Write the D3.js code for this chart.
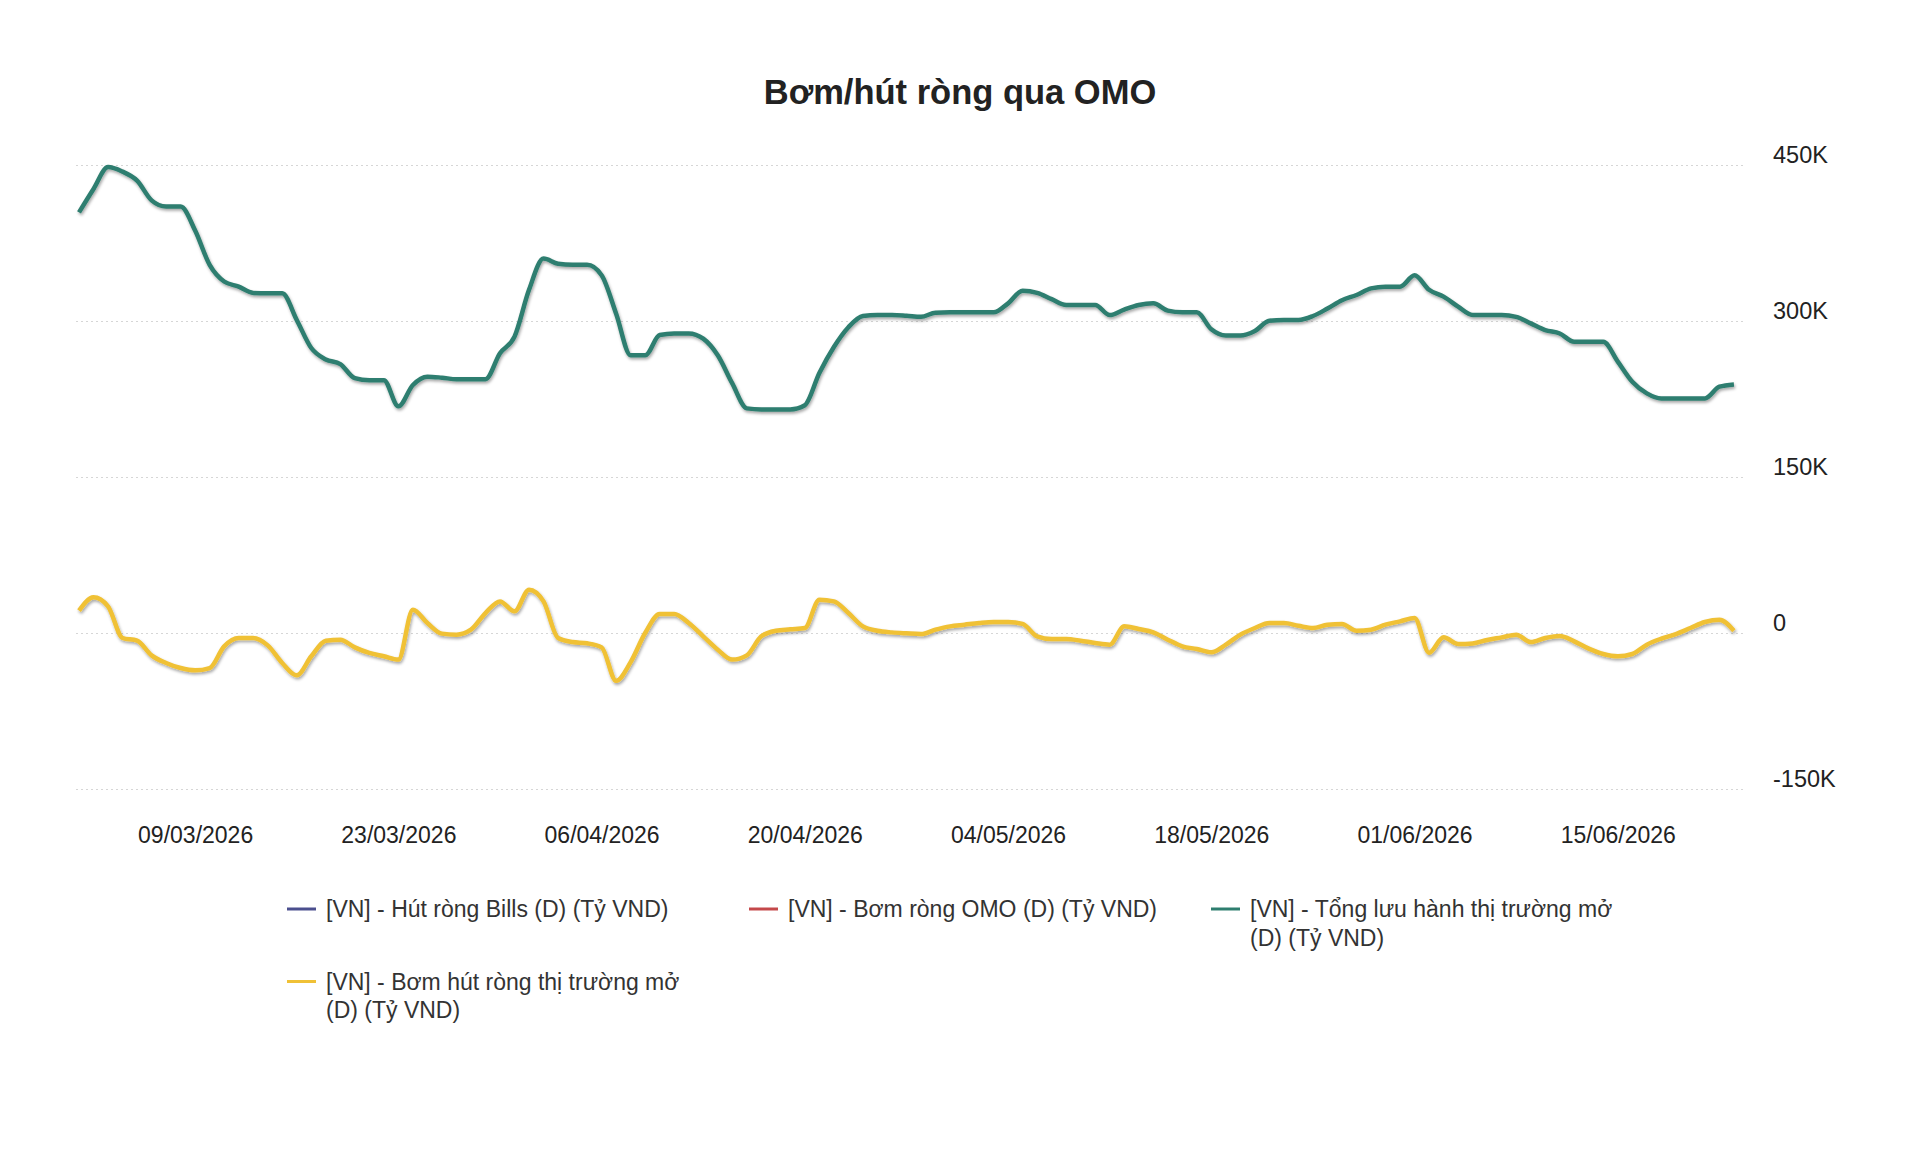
<!DOCTYPE html>
<html>
<head>
<meta charset="utf-8">
<script src="https://cdn.jsdelivr.net/npm/d3@7"></script>
<style>
	body { margin: 0; background: #ffffff; }
	svg { display: block; font-family: "Liberation Sans", Arial, sans-serif; }
</style>
</head>
<body>
<script>
var chartTitle = "Bơm/hút ròng qua OMO";
var startDay = "01/03/2026";
var xTicks = ["09/03/2026", "23/03/2026", "06/04/2026", "20/04/2026", "04/05/2026", "18/05/2026", "01/06/2026", "15/06/2026"];
var yTicks = [-150000, 0, 150000, 300000, 450000];
var seriesNames = [
	"[VN] - Hút ròng Bills (D) (Tỷ VND)",
	"[VN] - Bơm ròng OMO (D) (Tỷ VND)",
	"[VN] - Tổng lưu hành thị trường mở (D) (Tỷ VND)",
	"[VN] - Bơm hút ròng thị trường mở (D) (Tỷ VND)"
];
var seriesColors = ["#4b4f8e", "#c4484a", "#2e7e6f", "#f0c136"];
// daily values, Tỷ VND, from 01/03/2026
var totalOpen = [
	404500, 427000, 448000, 443600, 435000, 416000, 410000, 410000, 387000, 354000,
	338000, 333000, 327000, 326600, 326600, 301000, 274000, 263000, 258600, 245000,
	243000, 243000, 218000, 238500, 246500, 245500, 244000, 244000, 244000, 269000,
	285000, 330000, 360000, 355000, 354000, 354000, 344000, 307000, 267000, 267000,
	286500, 288000, 288000, 283000, 267000, 240000, 216000, 215000, 215000, 215000,
	219000, 250000, 275000, 294000, 304800, 305700, 305700, 305000, 304000, 308000,
	308300, 308300, 308300, 308300, 317000, 329000, 327000, 321000, 315400, 315400,
	315400, 305700, 311000, 315400, 317000, 310000, 308300, 308300, 292000, 286000,
	286000, 290400, 300300, 301000, 301000, 304800, 312000, 320000, 325000, 331400,
	333000, 333000, 344000, 330000, 323400, 313800, 305700, 305700, 305700, 304000,
	297700, 291300, 288000, 280000, 280000, 280000, 261000, 241600, 230400, 225600,
	225600, 225600, 225600, 236800, 239000
];
var netOpen = [
	21500, 34300, 25600, -4800, -7400, -21500, -28800, -33700, -35900, -33700,
	-12800, -4800, -4800, -11900, -28800, -40700, -22400, -7400, -6400, -13800,
	-19200, -22400, -25600, 22400, 9600, -600, -1600, 3200, 19200, 30400,
	20800, 41700, 30400, -4800, -8700, -9900, -13800, -46000, -28000, 0,
	18300, 18300, 9600, -3200, -16000, -25600, -21500, -3200, 2200, 3500,
	4800, 32000, 30400, 19200, 6400, 2200, 600, -300, -1000, 3200,
	6400, 8000, 9600, 10600, 10600, 8700, -3200, -5800, -5800, -7400,
	-9600, -11200, 6400, 3800, 600, -6400, -12800, -15400, -18600, -11200,
	-1600, 4800, 9600, 9600, 7000, 4800, 8000, 8700, 2200, 3200,
	8000, 11200, 14400, -19000, -4200, -10600, -10000, -6700, -4200, -1600,
	-8700, -4800, -2900, -8000, -15000, -20200, -22400, -20200, -11200, -5400,
	-1000, 4800, 10600, 12800, 2200
];

var width = 1920, height = 1154;
var parse = d3.timeParse("%d/%m/%Y");
var fmtK = function (v) { return v === 0 ? "0" : (v / 1000) + "K"; };

var svg = d3.select("body").append("svg")
	.attr("width", width)
	.attr("height", height);

var defs = svg.append("defs");
defs.append("filter")
	.attr("id", "shadow")
	.attr("x", "-5%").attr("y", "-20%")
	.attr("width", "110%").attr("height", "140%")
	.append("feDropShadow")
	.attr("dx", 1).attr("dy", 2)
	.attr("stdDeviation", 1.8)
	.attr("flood-color", "#000")
	.attr("flood-opacity", 0.35);

var t0 = parse(startDay);
var days = d3.timeDay.range(t0, d3.timeDay.offset(t0, totalOpen.length));

var x = d3.scaleTime()
	.domain([t0, d3.timeDay.offset(t0, 115)])
	.range([79, 79 + 115 * 14.517]);
var y = d3.scaleLinear()
	.domain([-150000, 450000])
	.range([789, 165]);

var gridLeft = 76, gridRight = 1746;

svg.append("text")
	.attr("x", 960)
	.attr("y", 104)
	.attr("text-anchor", "middle")
	.style("font-size", "34.5px")
	.style("font-weight", "bold")
	.style("fill", "#222")
	.text(chartTitle);

// y grid + labels on the right
var yAxis = svg.append("g").attr("class", "y-axis");
yAxis.selectAll("line")
	.data(yTicks)
	.enter()
	.append("line")
	.attr("x1", gridLeft)
	.attr("x2", gridRight)
	.attr("y1", function (d) { return y(d) + 0.5; })
	.attr("y2", function (d) { return y(d) + 0.5; })
	.attr("stroke", "#d6d6d6")
	.attr("stroke-width", 1.2)
	.attr("stroke-dasharray", "2,3");
yAxis.selectAll("text")
	.data(yTicks)
	.enter()
	.append("text")
	.attr("x", 1773)
	.attr("y", function (d) { return y(d) - 2; })
	.style("font-size", "23.5px")
	.style("fill", "#222")
	.text(fmtK);

// x axis labels
var xAxis = svg.append("g")
	.attr("transform", "translate(0,843)")
	.call(d3.axisBottom(x)
		.tickValues(xTicks.map(parse))
		.tickFormat(d3.timeFormat("%d/%m/%Y"))
		.tickSize(0)
		.tickPadding(0));
xAxis.select(".domain").remove();
xAxis.selectAll("text")
	.attr("dy", 0)
	.attr("y", 0)
	.style("font-family", "\"Liberation Sans\", Arial, sans-serif")
	.style("font-size", "23px")
	.style("fill", "#222");

var line = d3.line()
	.x(function (d, i) { return x(days[i]); })
	.y(function (d) { return y(d); })
	.curve(d3.curveMonotoneX);

svg.append("path")
	.datum(totalOpen)
	.attr("d", line)
	.attr("fill", "none")
	.attr("stroke", seriesColors[2])
	.attr("stroke-width", 4.5)
	.attr("stroke-linejoin", "round")
	.attr("filter", "url(#shadow)");

svg.append("path")
	.datum(netOpen)
	.attr("d", line)
	.attr("fill", "none")
	.attr("stroke", seriesColors[3])
	.attr("stroke-width", 4.5)
	.attr("stroke-linejoin", "round")
	.attr("filter", "url(#shadow)");

// legend, 3 columns, wraps long names
var legend = svg.append("g").attr("class", "legend");
var colX = [287, 749, 1211];
var lineH = 28.5, rowGap = 15.5, maxW = 385;
var rowY = 909, rowLines = 1;
seriesNames.forEach(function (name, i) {
	var col = i % 3;
	if (col === 0 && i > 0) {
		rowY += rowLines * lineH + rowGap;
		rowLines = 1;
	}
	var g = legend.append("g").attr("transform", "translate(" + colX[col] + "," + rowY + ")");
	g.append("line")
		.attr("x1", 0).attr("x2", 29)
		.attr("y1", 0).attr("y2", 0)
		.attr("stroke", seriesColors[i])
		.attr("stroke-width", 3);
	var txt = g.append("text")
		.attr("x", 39)
		.attr("y", 8)
		.style("font-size", "23px")
		.style("fill", "#333");
	var words = name.split(" ");
	var ts = txt.append("tspan").attr("x", 39).attr("dy", 0);
	var cur = [], n = 1;
	words.forEach(function (w) {
		cur.push(w);
		ts.text(cur.join(" "));
		if (ts.node().getComputedTextLength() > maxW && cur.length > 1) {
			cur.pop();
			ts.text(cur.join(" "));
			cur = [w];
			ts = txt.append("tspan").attr("x", 39).attr("dy", lineH).text(w);
			n ++;
		}
	});
	rowLines = Math.max(rowLines, n);
});
</script>
</body>
</html>
